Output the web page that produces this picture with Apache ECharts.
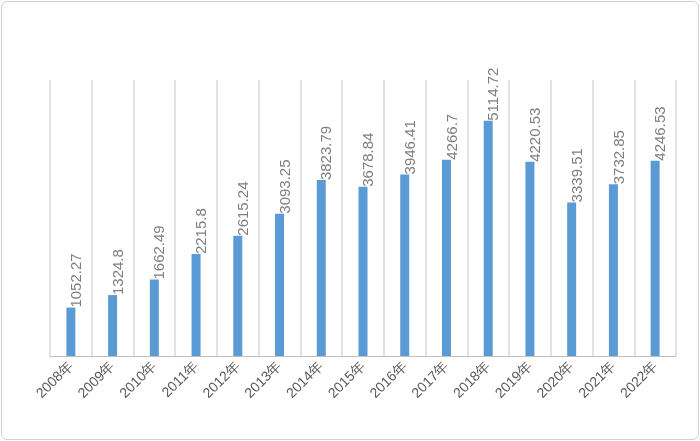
<!DOCTYPE html>
<html><head><meta charset="utf-8">
<script src="https://cdn.jsdelivr.net/npm/echarts@6/dist/echarts.min.js"></script>
<style>html,body{margin:0;padding:0;background:#fff}#c{position:absolute;left:1px;top:1px;width:696px;height:437px;border:1px solid #d0d0d0;border-radius:6px}</style>
</head><body><div id="c"></div>
<script>
const categories = ['2008年','2009年','2010年','2011年','2012年','2013年','2014年','2015年','2016年','2017年','2018年','2019年','2020年','2021年','2022年'];
const values = [1052.27,1324.8,1662.49,2215.8,2615.24,3093.25,3823.79,3678.84,3946.41,4266.7,5114.72,4220.53,3339.51,3732.85,4246.53];
const chart = echarts.init(document.getElementById('c'));
chart.setOption({
  animation:false,
  grid:{left:48,right:22,top:78,bottom:83},
  xAxis:{type:'category',data:categories,
    axisLine:{lineStyle:{color:'#bfbfbf'}},axisTick:{show:false},
    splitLine:{show:true,lineStyle:{color:'#d9d9d9',width:1.5}},
    axisLabel:{rotate:45,color:'#595959',fontSize:14,fontFamily:'Liberation Sans',interval:0,margin:8}},
  yAxis:{type:'value',min:0,max:6000,show:false,splitLine:{show:false}},
  series:[{type:'bar',data:values,barWidth:9,itemStyle:{color:'#5b9bd5'},
    label:{show:true,position:'insideTop',rotate:90,align:'left',verticalAlign:'middle',distance:0,offset:[0,6],
      color:'#7f7f7f',fontSize:15,fontFamily:'Liberation Sans'}}]
});
</script></body></html>
